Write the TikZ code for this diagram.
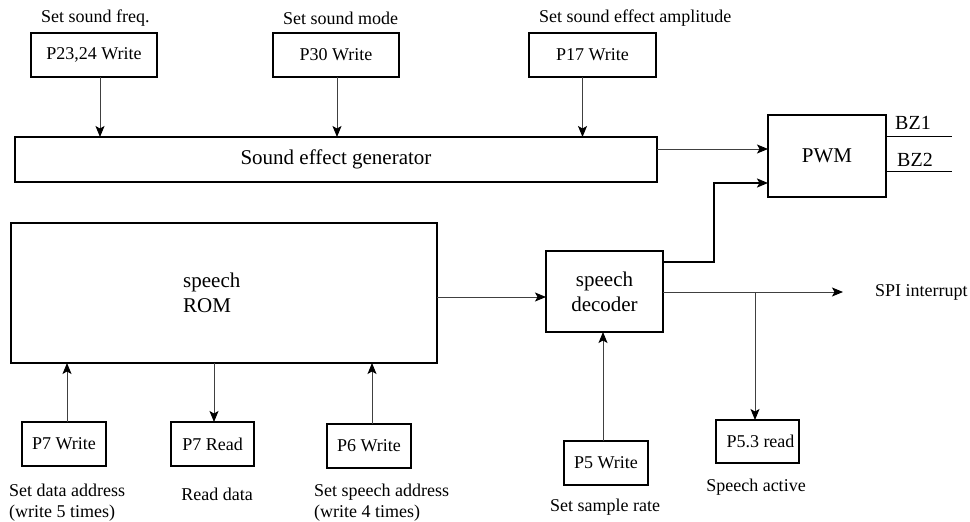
\documentclass[tikz,border=0pt]{standalone}
\usepackage{fontspec}
\setmainfont{Liberation Serif}
\usetikzlibrary{arrows.meta}
\begin{document}
\begin{tikzpicture}[x=1pt,y=-1pt,
  box/.style={draw,line width=2pt,inner sep=0pt,outer sep=0pt,font=\fontsize{18}{21}\selectfont},
  bigbox/.style={draw,line width=2.4pt,inner sep=0pt,outer sep=0pt,align=center,font=\fontsize{21}{25}\selectfont},
  lbl/.style={inner sep=0pt,align=left,font=\fontsize{18}{21}\selectfont},
  conn/.style={line width=1pt,draw=black!75,-{Stealth[length=11pt,width=9pt,inset=2.5pt,black]}},
  heavyconn/.style={line width=2.2pt,draw=black,-{Stealth[length=11pt,width=9pt,inset=2.5pt,black]}},
  wire/.style={line width=1pt,draw=black}
]
\useasboundingbox (0,0) rectangle (970,522);

% top register boxes
\node[box,minimum width=126pt,minimum height=44pt] (p2324) at (94,55) {P23,24 Write};
\node[box,minimum width=126pt,minimum height=44pt] (p30) at (336,55) {P30 Write};
\node[box,minimum width=127pt,minimum height=44pt] (p17) at (592.5,55) {P17 Write};
\node[lbl,anchor=west] (l2324) at (41,18) {Set sound freq.};
\node[lbl,anchor=west] (l30) at (283,18) {Set sound mode};
\node[lbl,anchor=west] (l17) at (539,18) {Set sound effect amplitude};

% sound effect generator
\node[bigbox,line width=2pt,minimum width=642pt,minimum height=45pt] (sg) at (336,159.5) {Sound effect generator};

% PWM
\node[bigbox,line width=2pt,minimum width=118pt,minimum height=82pt] (pwm) at (827,156) {PWM};
\node[inner sep=0pt,anchor=west,font=\fontsize{20}{24}\selectfont] (bz1) at (895,123) {BZ1};
\node[inner sep=0pt,anchor=west,font=\fontsize{20}{24}\selectfont] (bz2) at (897,160) {BZ2};
\coordinate (bz1end) at (952,136);
\coordinate (bz2end) at (952,171);
\draw[wire] (pwm.east |- bz1end) -- (bz1end);
\draw[wire] (pwm.east |- bz2end) -- (bz2end);

% speech ROM
\node[bigbox,minimum width=426pt,minimum height=140pt] (rom) at (224,293) {};
\node[inner sep=0pt,anchor=west,align=left,font=\fontsize{21}{25}\selectfont] (romtext) at (183,292.5) {speech\\ROM};

% speech decoder
\node[bigbox,minimum width=117pt,minimum height=81pt] (dec) at (604.5,291.5) {speech\\decoder};

% bottom register boxes
\node[box,minimum width=84pt,minimum height=44pt] (p7w) at (64,444) {P7 Write};
\node[box,minimum width=83pt,minimum height=44pt] (p7r) at (212.5,444) {P7 Read};
\node[box,minimum width=84pt,minimum height=44pt] (p6w) at (369,446) {P6 Write};
\node[box,minimum width=84pt,minimum height=44pt] (p5w) at (606,463) {P5 Write};
\node[box,minimum width=83pt,minimum height=43pt] (p53) at (757.5,441.5) {\hspace*{6pt}P5.3 read};

\node[lbl,anchor=west] (l7w) at (9,502.5) {Set data address\\(write 5 times)};
\node[lbl] (l7r) at (217,494) {Read data};
\node[lbl,anchor=west] (l6w) at (314,502.5) {Set speech address\\(write 4 times)};
\node[lbl] (l5w) at (605,507) {Set sample rate};
\node[lbl] (l53) at (756,487) {Speech active};
\node[lbl,anchor=west] (spitext) at (875,292) {SPI interrupt};

% connectors: top
\draw[conn] ([xshift=6pt]p2324.south) -- ([xshift=6pt]p2324.south |- sg.north);
\draw[conn] ([xshift=1pt]p30.south) -- ([xshift=1pt]p30.south |- sg.north);
\draw[conn] ([xshift=-10pt]p17.south) -- ([xshift=-10pt]p17.south |- sg.north);

% sound generator to PWM
\draw[conn] ([yshift=10.5pt]sg.east) -- ([yshift=10.5pt]sg.east -| pwm.west);

% decoder to PWM (elbow)
\coordinate (elb) at (714,183);
\draw[heavyconn] ([yshift=29.5pt]dec.east) -| (elb) -- (elb -| pwm.west);

% ROM to decoder
\draw[conn] ([yshift=-4pt]rom.east) -- ([yshift=-4pt]rom.east -| dec.west);

% SPI interrupt
\coordinate (spi) at (843,292);
\draw[conn] (dec.east |- spi) -- (spi);
\coordinate (br) at (755,292);
\draw[conn] (br) -- (br |- p53.north);

% P5 write to decoder
\draw[conn] ([xshift=-3pt]p5w.north) -- ([xshift=-3pt]p5w.north |- dec.south);

% bottom ROM connectors
\draw[conn] ([xshift=3pt]p7w.north) -- ([xshift=3pt]p7w.north |- rom.south);
\draw[conn] ([xshift=1.5pt]p7r.north |- rom.south) -- ([xshift=1.5pt]p7r.north);
\draw[conn] ([xshift=3pt]p6w.north) -- ([xshift=3pt]p6w.north |- rom.south);
\end{tikzpicture}
\end{document}
